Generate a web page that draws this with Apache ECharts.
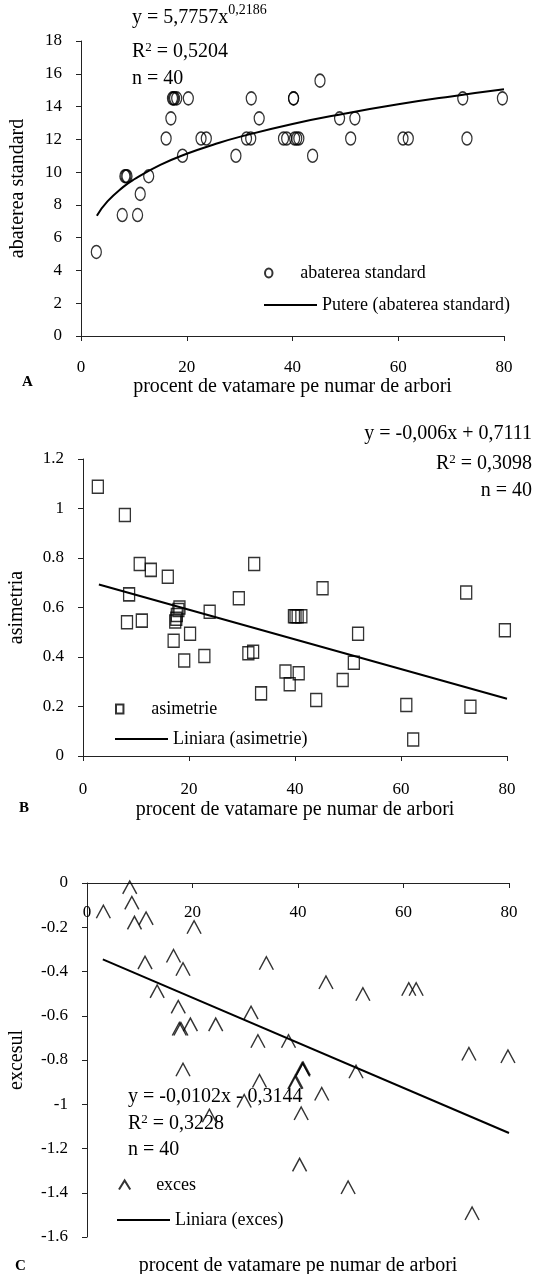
<!DOCTYPE html>
<html>
<head>
<meta charset="utf-8">
<script src="https://cdn.jsdelivr.net/npm/echarts@6/dist/echarts.min.js"></script>
<style>
html,body{margin:0;padding:0;background:#fff;}
#chart{width:538px;height:1274px;}
</style>
</head>
<body>
<div id="chart"></div>
<script>
// ---------- Data ----------
// shared x-axis ticks
const xTicks = [0, 20, 40, 60, 80];

// Panel A : abaterea standard
const yTicksA = [0, 2, 4, 6, 8, 10, 12, 14, 16, 18];
const xA = [2.9, 7.8, 10.7, 8.3, 8.5, 8.7, 11.2, 12.8, 16.1, 17.0, 17.3, 17.5, 17.7, 18.1, 20.3, 19.2, 22.7, 23.7, 29.3, 31.3,
            32.1, 32.2, 33.7, 38.3, 38.9, 40.4, 40.8, 41.2, 40.2, 40.2, 43.8, 45.2, 48.9, 51.8, 51.0, 60.9, 61.9, 72.2, 73.0, 79.7];
const yA = [5.13, 7.38, 7.38, 9.75, 9.75, 9.75, 8.67, 9.75, 12.05, 13.28, 14.5, 14.5, 14.5, 14.5, 14.5, 11.0, 12.05, 12.05, 11.0, 12.05,
            12.05, 14.5, 13.28, 12.05, 12.05, 12.05, 12.05, 12.05, 14.5, 14.5, 11.0, 15.58, 13.28, 13.28, 12.05, 12.05, 12.05, 14.5, 12.05, 14.5];
const trendAx = [3, 5, 8, 10, 15, 20, 25, 30, 40, 50, 60, 70, 80];
const trendAy = [7.34, 8.21, 9.10, 9.55, 10.44, 11.12, 11.67, 12.15, 12.94, 13.58, 14.14, 14.62, 15.05];

// Panel B : asimetria
const yTicksB = [0, 0.2, 0.4, 0.6, 0.8, 1, 1.2];
const xB = [2.8, 7.9, 10.7, 12.8, 16.0, 8.7, 8.3, 11.1, 17.4, 17.7, 18.2, 18.0, 17.1, 20.2, 19.1, 22.9, 23.9, 29.4, 32.3, 31.2,
            32.1, 33.6, 38.2, 39.0, 40.7, 39.8, 40.5, 41.2, 44.0, 45.2, 49.0, 51.1, 51.9, 61.0, 62.3, 72.3, 73.1, 79.6, 17.6, 40.1];
const yB = [1.088, 0.974, 0.776, 0.752, 0.724, 0.653, 0.54, 0.547, 0.543, 0.57, 0.60, 0.59, 0.466, 0.494, 0.386, 0.404, 0.583, 0.637, 0.776, 0.415,
            0.421, 0.253, 0.341, 0.29, 0.334, 0.565, 0.565, 0.565, 0.226, 0.678, 0.307, 0.377, 0.494, 0.206, 0.067, 0.661, 0.199, 0.508, 0.555, 0.565];
const trendBx = [3, 80];
const trendBy = [0.693, 0.231];

// Panel C : excesul
const yTicksC = [-1.6, -1.4, -1.2, -1, -0.8, -0.6, -0.4, -0.2, 0];
const xC = [3.1, 8.1, 8.5, 9.0, 11.2, 20.3, 11.0, 16.4, 18.2, 13.3, 17.3, 17.8, 19.6, 24.4, 31.1, 32.4, 34.0, 38.2, 18.2, 32.7,
            39.4, 45.3, 52.3, 61.0, 62.4, 72.4, 79.8, 40.8, 41.0, 51.0, 44.5, 29.8, 23.2, 40.6, 40.3, 49.5, 73.0, 40.9, 39.6, 17.5];
const yC = [-0.13, -0.02, -0.09, -0.18, -0.16, -0.20, -0.36, -0.33, -0.39, -0.49, -0.56, -0.66, -0.64, -0.64, -0.586, -0.715, -0.363, -0.715, -0.844, -0.895,
            -0.902, -0.45, -0.503, -0.48, -0.48, -0.773, -0.784, -0.84, -0.84, -0.853, -0.954, -0.985, -1.052, -1.042, -1.274, -1.376, -1.494, -0.845, -0.9, -0.66];
const trendCx = [3, 80];
const trendCy = [-0.345, -1.13];

// ---------- Styling ----------
const FONT = "'Liberation Serif', 'DejaVu Serif', serif";
const zip = (xs, ys) => xs.map((x, i) => [x, ys[i]]);

const ELLIPSE = 'path://M0,50C0,22.4,22.4,0,50,0C77.6,0,100,22.4,100,50C100,77.6,77.6,100,50,100C22.4,100,0,77.6,0,50Z';
const ELLIPSE_LEG = 'path://M0,45C0,20,17,0,37.5,0C58,0,75,20,75,45C75,70,58,90,37.5,90C17,90,0,70,0,45Z';
const SQUARE = 'path://M0,0L100,0L100,100L0,100Z';
const SQUARE_LEG = 'path://M0,0L77,0L77,93L0,93Z';
const CARET = 'path://M0,100L50,0L100,100';
const CARET_LEG = 'path://M0,80L50,0L100,80';

function xAxisCfg(grid, name, nameGap, margin, top) {
  return {
    gridIndex: grid, type: 'value', position: top ? 'top' : 'bottom',
    min: xTicks[0], max: xTicks[xTicks.length - 1], interval: xTicks[1] - xTicks[0],
    name: name, nameLocation: 'middle', nameGap: nameGap,
    nameTextStyle: { color: '#000', fontFamily: FONT, fontSize: 20 },
    axisLine: { onZero: !top, lineStyle: { color: '#222', width: 1 } },
    axisTick: { show: true, inside: !!top, length: 5, lineStyle: { color: '#222' } },
    axisLabel: { color: '#000', fontFamily: FONT, fontSize: 17, margin: margin, inside: !!top },
    splitLine: { show: false }
  };
}
function yAxisCfg(grid, ticks, name, nameGap) {
  return {
    gridIndex: grid, type: 'value',
    min: ticks[0], max: ticks[ticks.length - 1], interval: +(ticks[1] - ticks[0]).toFixed(6),
    name: name, nameLocation: 'middle', nameGap: nameGap,
    nameTextStyle: { color: '#000', fontFamily: FONT, fontSize: 20 },
    axisLine: { onZero: true, lineStyle: { color: '#222', width: 1 } },
    axisTick: { show: true, length: 5, lineStyle: { color: '#222' } },
    axisLabel: { color: '#000', fontFamily: FONT, fontSize: 17, margin: 19 },
    splitLine: { show: false }
  };
}
function scatterCfg(idx, name, symbol, size, data) {
  return {
    type: 'scatter', name: name, xAxisIndex: idx, yAxisIndex: idx,
    symbol: symbol, symbolSize: size, data: data, silent: true,
    itemStyle: { color: 'rgba(0,0,0,0)', borderColor: '#000', borderWidth: 1.4 },
    emphasis: { disabled: true }, z: 3
  };
}
function trendCfg(idx, name, data, smooth) {
  return {
    type: 'line', name: name, xAxisIndex: idx, yAxisIndex: idx, data: data,
    symbol: 'none', smooth: smooth, silent: true,
    lineStyle: { color: '#000', width: 2 },
    itemStyle: { color: '#000' },
    emphasis: { disabled: true }, z: 2
  };
}
function legendMarker(name, icon, left, cy, h) {
  return {
    data: [{ name: name, icon: icon }], left: left, top: cy - 10, orient: 'vertical',
    itemWidth: 53, itemHeight: h, padding: 0, selectedMode: false, symbolKeepAspect: true,
    itemStyle: { color: 'rgba(0,0,0,0)', borderColor: '#000', borderWidth: 2 },
    textStyle: { color: '#000', fontFamily: FONT, fontSize: 18, lineHeight: 20 }
  };
}
function legendLine(name, left, cy) {
  return {
    data: [{ name: name, icon: 'rect' }], left: left, top: cy - 10, orient: 'vertical',
    itemWidth: 53, itemHeight: 2, padding: 0, selectedMode: false,
    itemStyle: { color: '#000', borderWidth: 0 },
    textStyle: { color: '#000', fontFamily: FONT, fontSize: 18, lineHeight: 20 }
  };
}
const rich = {
  m: { fontFamily: FONT, fontSize: 20, color: '#000', lineHeight: 22, verticalAlign: 'bottom' },
  s: { fontFamily: FONT, fontSize: 14, color: '#000', lineHeight: 14, padding: [0, 0, 11, 0], verticalAlign: 'bottom' },
  r: { fontFamily: FONT, fontSize: 13, color: '#000', lineHeight: 13, padding: [0, 0, 8, 0], verticalAlign: 'bottom' }
};
function note(text, pos) {
  return Object.assign({
    text: text, padding: 0, itemGap: 0,
    textStyle: { fontFamily: FONT, fontSize: 20, fontWeight: 'normal', color: '#000', lineHeight: 22, rich: rich }
  }, pos);
}
function panelLabel(text, left, top) {
  return { text: text, left: left, top: top, padding: 0,
    textStyle: { fontFamily: FONT, fontSize: 15, fontWeight: 'bold', color: '#000', lineHeight: 16 } };
}

const option = {
  animation: false,
  backgroundColor: '#fff',
  grid: [
    { left: 81, top: 41, width: 423, height: 295, outerBoundsMode: 'none' },
    { left: 83, top: 459, width: 424, height: 297, outerBoundsMode: 'none' },
    { left: 87, top: 883, width: 422, height: 354, outerBoundsMode: 'none' }
  ],
  xAxis: [
    xAxisCfg(0, 'procent de vatamare pe numar de arbori', 41, 23, false),
    xAxisCfg(1, 'procent de vatamare pe numar de arbori', 44, 25, false),
    xAxisCfg(2, '', 0, 21, true)
  ],
  yAxis: [
    yAxisCfg(0, yTicksA, 'abaterea standard', 53),
    yAxisCfg(1, yTicksB, 'asimetria', 56),
    yAxisCfg(2, yTicksC, 'excesul', 60)
  ],
  legend: [
    legendMarker('abaterea standard', ELLIPSE_LEG, 264, 273, 9),
    legendLine('Putere (abaterea standard)', 264, 305),
    legendMarker('asimetrie', SQUARE_LEG, 115, 709, 9),
    legendLine('Liniara (asimetrie)', 115, 739),
    legendMarker('exces', CARET_LEG, 118, 1185, 9),
    legendLine('Liniara (exces)', 117, 1220)
  ],
  title: [
    note('{m|y = 5,7757x}{s|0,2186}', { left: 132, top: 6 }),
    note('{m|R}{r|2}{m| = 0,5204}', { left: 132, top: 40 }),
    note('n = 40', { left: 132, top: 68 }),
    note('y = -0,006x + 0,7111', { right: 6, top: 423 }),
    note('{m|R}{r|2}{m| = 0,3098}', { right: 6, top: 452 }),
    note('n = 40', { right: 6, top: 480 }),
    note('y = -0,0102x - 0,3144', { left: 128, top: 1086 }),
    note('{m|R}{r|2}{m| = 0,3228}', { left: 128, top: 1112 }),
    note('n = 40', { left: 128, top: 1139 }),
    panelLabel('A', 22, 374),
    panelLabel('B', 19, 800),
    panelLabel('C', 15, 1258),
    { text: 'procent de vatamare pe numar de arbori', left: 298, top: 1255, padding: 0, textAlign: 'center',
      textStyle: { fontFamily: FONT, fontSize: 20, fontWeight: 'normal', color: '#000', lineHeight: 22 } }
  ],
  series: [
    scatterCfg(0, 'abaterea standard', ELLIPSE, [10, 13], zip(xA, yA)),
    trendCfg(0, 'Putere (abaterea standard)', zip(trendAx, trendAy), true),
    scatterCfg(1, 'asimetrie', SQUARE, [11, 13], zip(xB, yB)),
    trendCfg(1, 'Liniara (asimetrie)', zip(trendBx, trendBy), false),
    scatterCfg(2, 'exces', CARET, [14, 13], zip(xC, yC)),
    trendCfg(2, 'Liniara (exces)', zip(trendCx, trendCy), false)
  ]
};

const chart = echarts.init(document.getElementById('chart'));
chart.setOption(option);
</script>
</body>
</html>
